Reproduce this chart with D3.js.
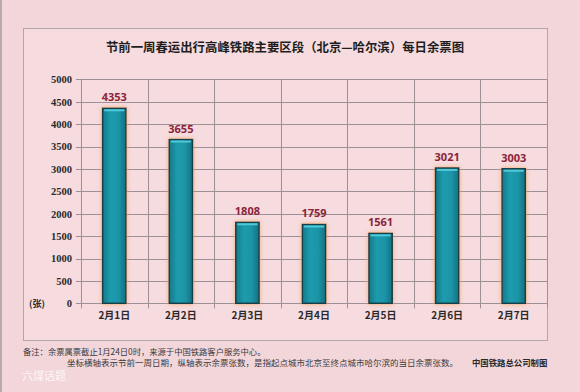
<!DOCTYPE html>
<html><head><meta charset="utf-8">
<script src="https://cdn.jsdelivr.net/npm/d3@7"></script>
<style>
html,body{margin:0;padding:0;background:#f3d6da;}
svg{display:block;}
</style></head>
<body>
<svg id="c" width="580" height="392"></svg>
<script>
const title = "节前一周春运出行高峰铁路主要区段（北京—哈尔滨）每日余票图";
const categories = ["2月1日","2月2日","2月3日","2月4日","2月5日","2月6日","2月7日"];
const values = [4353, 3655, 1808, 1759, 1561, 3021, 3003];
const yTicks = [0,500,1000,1500,2000,2500,3000,3500,4000,4500,5000];
const unitLabel = "(张)";
const noteLines = ["备注：余票属票截止1月24日0时，来源于中国铁路客户服务中心。",
                   "坐标横轴表示节前一周日期，纵轴表示余票张数，是指起点城市北京至终点城市哈尔滨的当日余票张数。"];
const credit = "中国铁路总公司制图";

const svg = d3.select("#c");
const defs = svg.append("defs");
const g1 = defs.append("linearGradient").attr("id","bar").attr("x1","0").attr("x2","1").attr("y1","0").attr("y2","0");
g1.append("stop").attr("offset","0%").attr("stop-color","#137a8a");
g1.append("stop").attr("offset","35%").attr("stop-color","#1e9cae");
g1.append("stop").attr("offset","70%").attr("stop-color","#1b93a5");
g1.append("stop").attr("offset","100%").attr("stop-color","#10707f");
const f = defs.append("filter").attr("id","glow").attr("x","-50%").attr("y","-10%").attr("width","200%").attr("height","120%");
f.append("feGaussianBlur").attr("in","SourceAlpha").attr("stdDeviation","2.2").attr("result","b");
f.append("feFlood").attr("flood-color","#f0a860").attr("flood-opacity","0.9");
f.append("feComposite").attr("in2","b").attr("operator","in").attr("result","s");
const m = f.append("feMerge");
m.append("feMergeNode").attr("in","s");
m.append("feMergeNode").attr("in","SourceGraphic");

// background
svg.append("rect").attr("width",580).attr("height",392).attr("fill","#f3d6da");
svg.append("rect").attr("x",0).attr("y",0).attr("width",2).attr("height",392).attr("fill","#b9aab0");
// frame
svg.append("rect").attr("x",23.5).attr("y",28.5).attr("width",524).attr("height",312)
  .attr("fill","#f6dbdf").attr("stroke","#b3a6ab").attr("stroke-width",1);

svg.append("text").attr("x",285).attr("y",52).attr("text-anchor","middle")
  .attr("font-family","'Noto Sans CJK SC'").attr("font-weight","bold").attr("font-size",12.4)
  .attr("fill","#1e1e1e").text(title);

const L = 81, R = 547, T = 79.3, B = 303.3;
const x = d3.scaleBand().domain(categories).range([L,R]).paddingInner(0.65).paddingOuter(0.325);
const xb = d3.scaleBand().domain(categories).range([L,R]);
const y = d3.scaleLinear().domain([0,5000]).range([B,T]);

const grid = svg.append("g");
grid.selectAll("line.h").data(yTicks).join("line")
  .attr("x1",L-5).attr("x2",R).attr("y1",d=>Math.round(y(d))+0.5).attr("y2",d=>Math.round(y(d))+0.5)
  .attr("stroke","#9e8f96").attr("stroke-width",1);
grid.selectAll("line.v").data(categories).join("line")
  .attr("x1",(d,i)=>Math.round(L+xb.step()*(i+1))+0.5).attr("x2",(d,i)=>Math.round(L+xb.step()*(i+1))+0.5)
  .attr("y1",T).attr("y2",B+5).attr("stroke","#9e8f96").attr("stroke-width",1);
grid.append("line").attr("x1",L+0.5).attr("x2",L+0.5).attr("y1",T).attr("y2",B+5).attr("stroke","#9e8f96");

// y axis labels
const ya = d3.axisLeft(y).tickValues(yTicks).tickFormat(d3.format("d")).tickSize(0).tickPadding(9);
const yg = svg.append("g").attr("transform",`translate(${L},0)`).call(ya);
yg.select(".domain").remove();
yg.selectAll("text").attr("font-family","'Liberation Serif'").attr("font-weight","bold")
  .attr("font-size",10.5).attr("fill","#2a2a2a");
svg.append("text").attr("x",37).attr("y",y(0)+3.5).attr("text-anchor","middle")
  .attr("font-family","'Noto Sans CJK SC'").attr("font-weight","bold").attr("font-size",9).attr("fill","#2a2a2a").text(unitLabel);

// x axis labels
const xa = d3.axisBottom(xb).tickSize(0).tickPadding(9);
const xg = svg.append("g").attr("transform",`translate(0,${B})`).call(xa);
xg.select(".domain").remove();
xg.selectAll("text").attr("font-family","'Noto Sans CJK SC'").attr("font-weight","bold")
  .attr("font-size",10).attr("fill","#2a2a2a");

// bars
const bars = svg.append("g");
bars.selectAll("rect").data(values).join("rect")
  .attr("x",(d,i)=>x(categories[i])).attr("width",x.bandwidth())
  .attr("y",d=>y(d)).attr("height",d=>B-y(d))
  .attr("fill","url(#bar)").attr("stroke","#173f48").attr("stroke-width",1.5)
  .attr("filter","url(#glow)");
bars.selectAll("line.cap").data(values).join("line")
  .attr("x1",(d,i)=>x(categories[i])+1.5).attr("x2",(d,i)=>x(categories[i])+x.bandwidth()-1.5)
  .attr("y1",d=>y(d)+2).attr("y2",d=>y(d)+2).attr("stroke","#4fc9d8").attr("stroke-width",2);

svg.append("g").selectAll("text").data(values).join("text")
  .attr("x",(d,i)=>x(categories[i])+x.bandwidth()/2).attr("y",d=>y(d)-7)
  .attr("text-anchor","middle").attr("font-family","'Open Sans'").attr("font-weight","bold")
  .attr("font-size",11).attr("fill","#8a2438").text(d=>d);

// notes
const nf = "'Noto Sans CJK SC'";
svg.append("text").attr("x",23).attr("y",355).attr("font-family",nf).attr("font-size",8.3).attr("fill","#3a3a3a").text(noteLines[0]);
svg.append("text").attr("x",67).attr("y",366).attr("font-family",nf).attr("font-size",8.5).attr("fill","#3a3a3a").text(noteLines[1]);
svg.append("text").attr("x",472).attr("y",366).attr("font-family",nf).attr("font-weight","bold").attr("font-size",8.4).attr("fill","#2a2a2a").text(credit);
// faint watermark
svg.append("text").attr("x",22).attr("y",380).attr("font-family",nf).attr("font-size",11).attr("fill","#ffffff").attr("fill-opacity",0.8).text("六煤话题");
</script>
</body></html>
